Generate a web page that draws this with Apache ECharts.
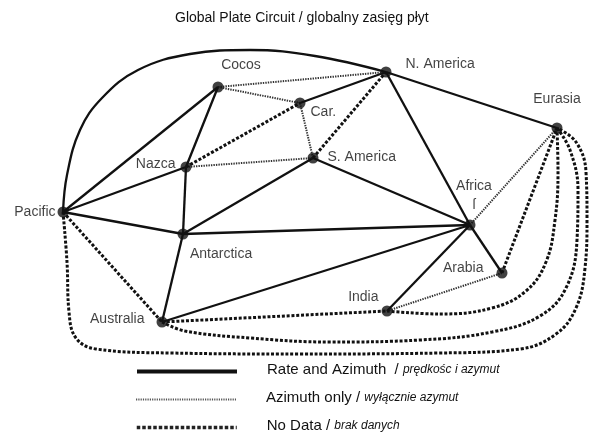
<!DOCTYPE html>
<html>
<head>
<meta charset="utf-8">
<script src="https://cdn.jsdelivr.net/npm/echarts@6/dist/echarts.min.js"></script>
<style>
html, body { margin: 0; padding: 0; background: #fff; }
#chart { width: 589px; height: 435px; }
</style>
</head>
<body>
<div id="chart"></div>
<script>
// plates and their place on the sheet (x to the right, y downwards)
var plates = ['Pacific', 'Cocos', 'Nazca', 'Antarctica', 'Australia', 'Car.', 'N. America', 'S. America', 'Eurasia', 'Africa', 'Arabia', 'India'];
var plateX = [63, 218, 186, 183, 162, 300, 386, 313, 557, 470, 502, 387];
var plateY = [212, 87, 167, 234, 322, 103, 72, 158, 128, 225, 273, 311];

// straight links
var rateAzimuth = [
	['Pacific', 'Cocos'], ['Pacific', 'Nazca'], ['Pacific', 'Antarctica'],
	['Cocos', 'Nazca'], ['Nazca', 'Antarctica'], ['Antarctica', 'S. America'],
	['Antarctica', 'Africa'], ['Antarctica', 'Australia'], ['Australia', 'Africa'],
	['Car.', 'N. America'], ['N. America', 'Africa'], ['N. America', 'Eurasia'],
	['S. America', 'Africa'], ['Africa', 'Arabia'], ['Africa', 'India']
];
var azimuthOnly = [
	['Cocos', 'N. America'], ['Cocos', 'Car.'], ['Car.', 'S. America'],
	['Nazca', 'S. America'], ['Africa', 'Eurasia'], ['Arabia', 'India']
];
var noData = [
	['Nazca', 'Car.'], ['S. America', 'N. America'], ['Pacific', 'Australia'],
	['Australia', 'India'], ['Arabia', 'Eurasia']
];

// curved links: ends plus the points they pass through
var arcPacificNAmerica = [[67, 175], [80, 130], [102, 98], [138, 70], [190, 54], [250, 50], [315, 56]];
var loopIndiaEurasia = [[440, 314], [492, 308], [526, 291], [546, 262], [555, 220], [558, 172]];
var loopAustraliaEurasia = [[185, 331], [250, 338], [330, 342], [420, 340], [492, 332], [540, 316], [566, 288], [577, 240], [578, 190], [570, 150]];
var loopPacificEurasia = [[67, 262], [69, 312], [76, 338], [96, 349], [170, 353], [300, 354], [440, 353], [520, 349], [556, 334], [576, 308], [585, 268], [587, 220], [586, 172], [576, 142]];

var curved = [
	{ kind: 'Rate and Azimuth', from: 'Pacific', to: 'N. America', via: arcPacificNAmerica },
	{ kind: 'No Data', from: 'India', to: 'Eurasia', via: loopIndiaEurasia },
	{ kind: 'No Data', from: 'Australia', to: 'Eurasia', via: loopAustraliaEurasia },
	{ kind: 'No Data', from: 'Pacific', to: 'Eurasia', via: loopPacificEurasia }
];

var kinds = ['Rate and Azimuth', 'Azimuth only', 'No Data'];
var legendText = {
	'Rate and Azimuth': '{a|Rate and Azimuth}{a|  / }{b|prędkośc i azymut}',
	'Azimuth only': '{a|Azimuth only / }{b|wyłącznie azymut}',
	'No Data': '{a|No Data / }{b|brak danych}'
};

var edgeStyle = {
	'Rate and Azimuth': { color: '#111', width: 2.3, type: 'solid' },
	'Azimuth only': { color: '#333', width: 2, type: [1.4, 1.1] },
	'No Data': { color: '#111', width: 3, type: [3, 1.8] }
};
var legendStyle = {
	'Rate and Azimuth': { color: '#111', width: 4, type: 'solid' },
	'Azimuth only': { color: '#555', width: 2, type: [1.2, 1.1] },
	'No Data': { color: '#222', width: 3.5, type: [3.5, 2] }
};

// label placement per plate
var labelPlace = {
	'Pacific': { position: 'left', distance: 2 },
	'Cocos': { position: 'top', distance: 5, offset: [23, -2] },
	'Nazca': { position: 'left', distance: 5, offset: [0, -3] },
	'Antarctica': { position: 'bottom', distance: 5, align: 'left', offset: [7, 0] },
	'Australia': { position: 'left', distance: 12, offset: [0, -3] },
	'Car.': { position: 'right', distance: 5, offset: [0, 9] },
	'N. America': { position: 'right', distance: 14, offset: [0, -8] },
	'S. America': { position: 'right', distance: 9, offset: [0, -1] },
	'Eurasia': { position: 'top', distance: 14 },
	'Africa': { position: 'top', distance: 5, offset: [4, 0], formatter: 'Africa\n{m|ſ}' },
	'Arabia': { position: 'left', distance: 13, offset: [0, -5] },
	'India': { position: 'left', distance: 3, offset: [0, -14] }
};

function pt(name) {
	var i = plates.indexOf(name);
	return [plateX[i], plateY[i]];
}

var series = [];

function addLink(kind, from, to, via) {
	var data = [pt(from)].concat(via || []).concat([pt(to)]);
	series.push({
		type: 'line',
		data: data,
		smooth: via ? 0.4 : false,
		symbol: 'none',
		silent: true,
		z: 2,
		lineStyle: edgeStyle[kind]
	});
}

rateAzimuth.forEach(function(l) { addLink('Rate and Azimuth', l[0], l[1]); });
azimuthOnly.forEach(function(l) { addLink('Azimuth only', l[0], l[1]); });
noData.forEach(function(l) { addLink('No Data', l[0], l[1]); });
curved.forEach(function(c) { addLink(c.kind, c.from, c.to, c.via); });

// empty series, only for the legend samples
kinds.forEach(function(kind) {
	series.push({
		type: 'line',
		name: kind,
		data: [],
		symbol: 'none',
		color: legendStyle[kind].color,
		lineStyle: legendStyle[kind]
	});
});

series.push({
	type: 'scatter',
	symbolSize: 11,
	z: 10,
	silent: true,
	itemStyle: { color: '#111' },
	label: {
		show: true,
		formatter: '{b}',
		color: '#111',
		fontSize: 14,
		lineHeight: 19,
		fontFamily: 'Liberation Sans, Arial, sans-serif',
		rich: { m: { fontSize: 14, lineHeight: 19, color: '#111' } }
	},
	data: plates.map(function(name, i) {
		return {
			name: name,
			value: [plateX[i], plateY[i]],
			label: labelPlace[name]
		};
	})
});

// one legend block per row so nothing wraps
var legends = kinds.map(function(kind, i) {
	return {
		data: [kind],
		orient: 'vertical',
		left: 135,
		top: 362 + i * 28,
		padding: 0,
		itemWidth: 100,
		itemHeight: 22,
		selectedMode: false,
		itemStyle: { opacity: 0 },
		lineStyle: { width: 'inherit' },
		formatter: function(name) { return legendText[name]; },
		textStyle: {
			padding: [0, 0, 4, 25],
			rich: {
				a: { fontSize: 15, lineHeight: 18, color: '#111', fontFamily: 'Liberation Sans, Arial, sans-serif' },
				b: { fontSize: 12, lineHeight: 18, fontStyle: 'italic', color: '#111', fontFamily: 'Liberation Sans, Arial, sans-serif' }
			}
		}
	};
});

var chart = echarts.init(document.getElementById('chart'));
chart.setOption({
	animation: false,
	backgroundColor: '#fff',
	title: {
		text: 'Global Plate Circuit / globalny zasięg płyt',
		left: 175,
		top: 11,
		padding: 0,
		textStyle: { fontSize: 14, fontWeight: 'normal', color: '#111', fontFamily: 'Liberation Sans, Arial, sans-serif' }
	},
	grid: { left: 0, right: 0, top: 0, bottom: 0 },
	xAxis: { type: 'value', min: 0, max: 589, show: false },
	yAxis: { type: 'value', min: 0, max: 435, inverse: true, show: false },
	legend: legends,
	series: series
});
</script>
</body>
</html>
